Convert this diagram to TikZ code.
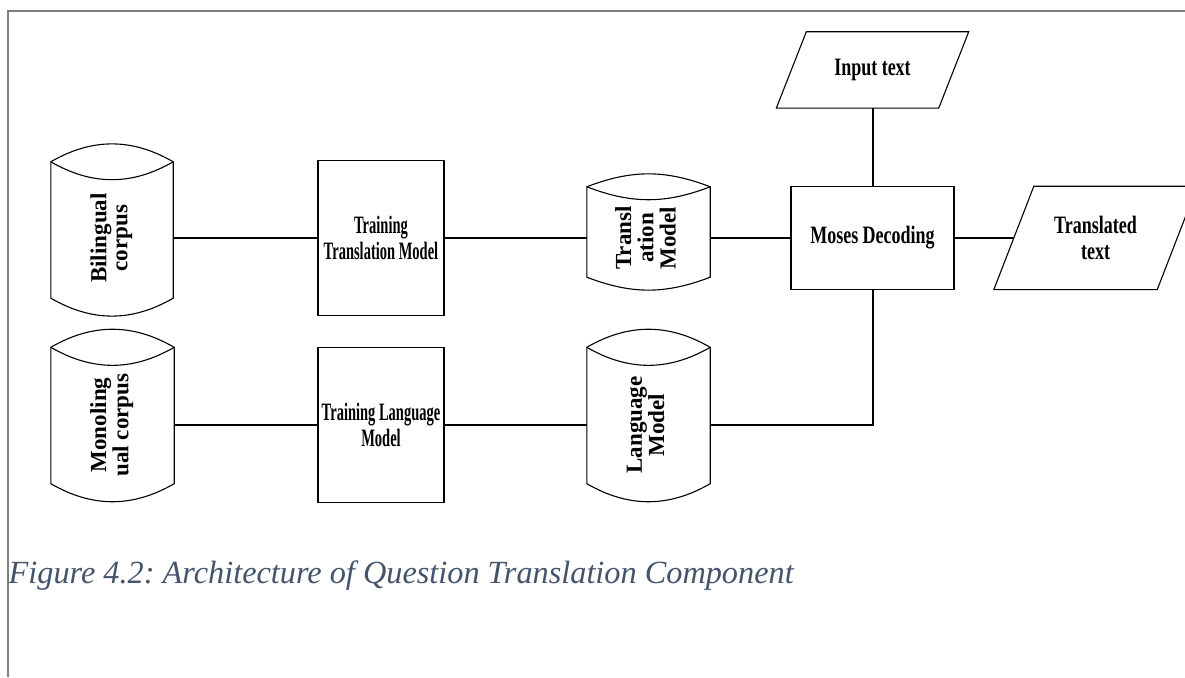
\documentclass[tikz,border=0pt]{standalone}
\usepackage{fontspec}
\setmainfont{Liberation Serif}
\newfontfamily\narrowA[FakeStretch=0.58]{Liberation Serif}
\newfontfamily\narrowB[FakeStretch=0.72]{Liberation Serif}
\usetikzlibrary{calc}
\definecolor{capcol}{HTML}{44546A}
\definecolor{framecol}{HTML}{7F7F7F}
\frenchspacing
\tikzset{
  shp/.style={line width=1.1pt, black},
  conn/.style={line width=2pt, black},
  procbox/.style={draw, shp, rectangle, inner sep=2pt, align=center,
    font=\narrowA\bfseries\fontsize{25}{25.5}\selectfont},
  widebox/.style={draw, shp, rectangle, inner sep=2pt, align=center,
    font=\narrowB\bfseries\fontsize{25}{26}\selectfont},
  iobody/.style={rectangle, inner sep=0pt, align=center,
    font=\narrowB\bfseries\fontsize{25}{26}\selectfont},
  cylbody/.style={rectangle, inner sep=0pt,
    font=\bfseries\fontsize{23}{21}\selectfont},
}
\newcommand\cylout[3]{%
  \draw[shp] ($(#1.north west)+(0,#3)$) to[bend left=#2] ($(#1.north east)+(0,#3)$)
     -- (#1.south east) to[bend left=#2] (#1.south west) -- cycle;
  \draw[shp] ($(#1.north west)+(0,#3)$) to[bend right=#2] ($(#1.north east)+(0,#3)$);
}
\newcommand\paraout[2]{%
  \draw[shp] ($(#1.south west)+(-#2,0)$) -- ($(#1.north west)+(#2,0)$)
     -- ($(#1.north east)+(#2,0)$) -- ($(#1.south east)+(-#2,0)$) -- cycle;
}
\newcommand\vtext[2]{\rotatebox{90}{\begin{tabular}{@{}c@{}}#1\\#2\end{tabular}}}
\begin{document}
\begin{tikzpicture}[x=1pt,y=1pt]
\useasboundingbox (0,0) rectangle (1185,677);
\clip (0,0) rectangle (1185,677);
\fill[white] (0,0) rectangle (1185,677);
% frame
\draw[framecol, line width=2pt] (7.5,0) -- (7.5,666) -- (1186,666);

% cylinders
\node[cylbody, minimum width=122pt, minimum height=120pt] (bil) at (112,439)
  {\vtext{Bilingual}{corpus}};
\cylout{bil}{30}{16}
\node[cylbody, minimum width=123pt, minimum height=117pt] (mono) at (112.5,252)
  {\vtext{Monoling}{ual corpus}};
\cylout{mono}{30}{19}
\node[cylbody, minimum width=123pt, minimum height=78pt] (tm) at (648.5,439)
  {\rotatebox{90}{\begin{tabular}{@{}c@{}}Transl\\ation\\Model\end{tabular}}};
\cylout{tm}{21}{12}
\node[cylbody, minimum width=123pt, minimum height=117pt] (lm) at (648.5,252)
  {\vtext{Language}{Model}};
\cylout{lm}{30}{19}

% process boxes
\node[procbox, minimum width=126pt, minimum height=155pt] (ttm) at (381,439)
  {Training\\Translation Model};
\node[procbox, minimum width=126pt, minimum height=155pt] (tlm) at (381,252)
  {Training Language\\Model};
\node[widebox, minimum width=163pt, minimum height=103pt] (moses) at (872.5,439)
  {Moses Decoding};

% input / output
\node[iobody, minimum width=162pt, minimum height=76pt] (in) at (872.5,607)
  {Input text};
\paraout{in}{15}
\node[iobody, minimum width=163pt, minimum height=103pt] (out) at (1095.5,439)
  {Translated\\text};
\paraout{out}{20}

% connectors
\draw[conn] (bil) -- (ttm);
\draw[conn] (ttm) -- (tm);
\draw[conn] (tm) -- (moses);
\draw[conn] (moses) -- (out);
\draw[conn] (in) -- (moses);
\draw[conn] (mono) -- (tlm);
\draw[conn] (tlm) -- (lm);
\draw[conn] (lm.east) -| (moses.south);

% caption
\node[anchor=base west, inner sep=0pt, text=capcol,
  font=\itshape\fontsize{32.3}{36}\selectfont] (cap) at (8.5,93)
  {Figure 4.2: Architecture of Question Translation Component};
\end{tikzpicture}
\end{document}
